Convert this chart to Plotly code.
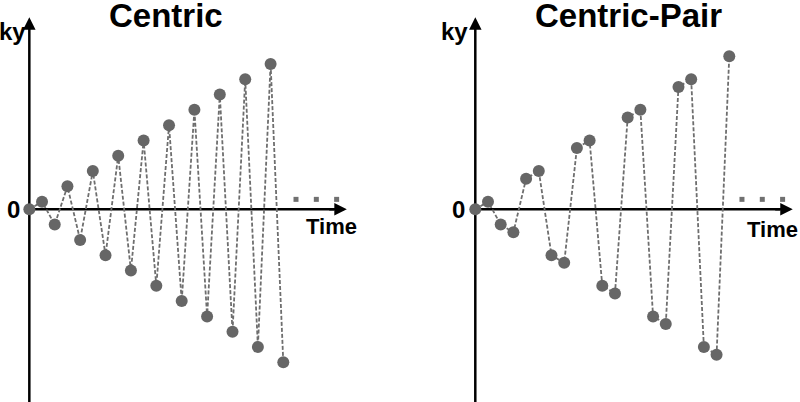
"""
Centric vs Centric-Pair k-space ordering: ky position per acquisition time.
"""

import plotly.graph_objects as go

# acquisition order (time step)
tiempo = [0, 1, 2, 3, 4, 5, 6, 7, 8, 9, 10, 11, 12, 13, 14, 15, 16, 17, 18, 19, 20]

# ky line acquired at each time step
ky_centric = [0, 1, -2, 3, -4, 5, -6, 7, -8, 9, -10, 11, -12, 13, -14, 15, -16, 17, -18, 19, -20]
ky_centric_pair = [0, 1, -2, -3, 4, 5, -6, -7, 8, 9, -10, -11, 12, 13, -14, -15, 16, 17, -18, -19, 20]

# "..." continuation marks
puntos_t = [21.0, 22.6, 24.2]
puntos_ky = [1.3, 1.3, 1.3]

paneles = [
    {"titulo": "Centric", "ky": ky_centric, "xaxis": "x", "yaxis": "y",
     "xrange": [-2.31, 29.19], "titulo_t": 10.8, "ky_t": -1.32, "cero_t": -1.28,
     "time_t": 23.8, "time_ky": -2.2},
    {"titulo": "Centric-Pair", "ky": ky_centric_pair, "xaxis": "x2", "yaxis": "y2",
     "xrange": [-5.93, 25.57], "titulo_t": 12.1, "ky_t": -1.64, "cero_t": -1.36,
     "time_t": 23.4, "time_ky": -2.6},
]

GRIS = "#666666"
FUENTE = "Liberation Sans, Arial, sans-serif"

fig = go.Figure()
anotaciones = []
formas = []

for p in paneles:
    fig.add_trace(go.Scatter(
        x=tiempo, y=p["ky"],
        mode="lines+markers",
        line={"color": "#6e6e6e", "width": 1.8, "dash": "4px,2px"},
        marker={"color": GRIS, "size": 12},
        xaxis=p["xaxis"], yaxis=p["yaxis"],
        showlegend=False, hoverinfo="skip",
    ))
    fig.add_trace(go.Scatter(
        x=puntos_t, y=puntos_ky,
        mode="markers",
        marker={"color": "#707070", "size": 5, "symbol": "square"},
        xaxis=p["xaxis"], yaxis=p["yaxis"],
        showlegend=False, hoverinfo="skip",
    ))

    xr, yr = p["xaxis"], p["yaxis"]
    # ejes dibujados a mano
    formas.append(dict(type="line", xref=xr, yref=yr, x0=0, y0=-26, x1=0, y1=24,
                       line={"color": "black", "width": 2.5}, layer="below"))
    formas.append(dict(type="line", xref=xr, yref=yr, x0=0, y0=0, x1=24, y1=0,
                       line={"color": "black", "width": 2.5}, layer="below"))
    # puntas de flecha
    anotaciones.append(dict(xref=xr, yref=yr, axref=xr, ayref=yr,
                            x=0, y=25.1, ax=0, ay=23.5, text="", showarrow=True,
                            arrowhead=2, arrowsize=1, arrowwidth=2.5, arrowcolor="black"))
    anotaciones.append(dict(xref=xr, yref=yr, axref=xr, ayref=yr,
                            x=25.0, y=0, ax=23.5, ay=0, text="", showarrow=True,
                            arrowhead=2, arrowsize=1, arrowwidth=2.5, arrowcolor="black"))
    # textos
    anotaciones.append(dict(xref=xr, yref=yr, x=p["titulo_t"], y=25.3, text=f"<b>{p['titulo']}</b>",
                            showarrow=False, font={"size": 33, "color": "black", "family": FUENTE}))
    anotaciones.append(dict(xref=xr, yref=yr, x=p["ky_t"], y=23.3, text="<b>ky</b>",
                            showarrow=False, font={"size": 24, "color": "black", "family": FUENTE}))
    anotaciones.append(dict(xref=xr, yref=yr, x=p["cero_t"], y=0, text="<b>0</b>",
                            showarrow=False, font={"size": 24, "color": "black", "family": FUENTE}))
    anotaciones.append(dict(xref=xr, yref=yr, x=p["time_t"], y=p["time_ky"], text="<b>Time</b>",
                            showarrow=False, font={"size": 22, "color": "black", "family": FUENTE}))

eje_oculto = {"visible": False, "showgrid": False, "zeroline": False, "fixedrange": True}

fig.update_layout(
    width=800, height=402,
    margin={"l": 0, "r": 0, "t": 0, "b": 0},
    paper_bgcolor="white", plot_bgcolor="white",
    xaxis={**eje_oculto, "domain": [0, 0.5], "range": paneles[0]["xrange"]},
    xaxis2={**eje_oculto, "domain": [0.5, 1], "range": paneles[1]["xrange"]},
    yaxis={**eje_oculto, "domain": [0, 1], "range": [-25.19, 27.36]},
    yaxis2={**eje_oculto, "domain": [0, 1], "range": [-25.19, 27.36], "anchor": "x2"},
    annotations=anotaciones,
    shapes=formas,
)

# sin margen del <body> para que la figura ocupe la ventana completa
fig.write_html("out.html", config={"displayModeBar": False},
               post_script="document.body.style.margin='0';")
